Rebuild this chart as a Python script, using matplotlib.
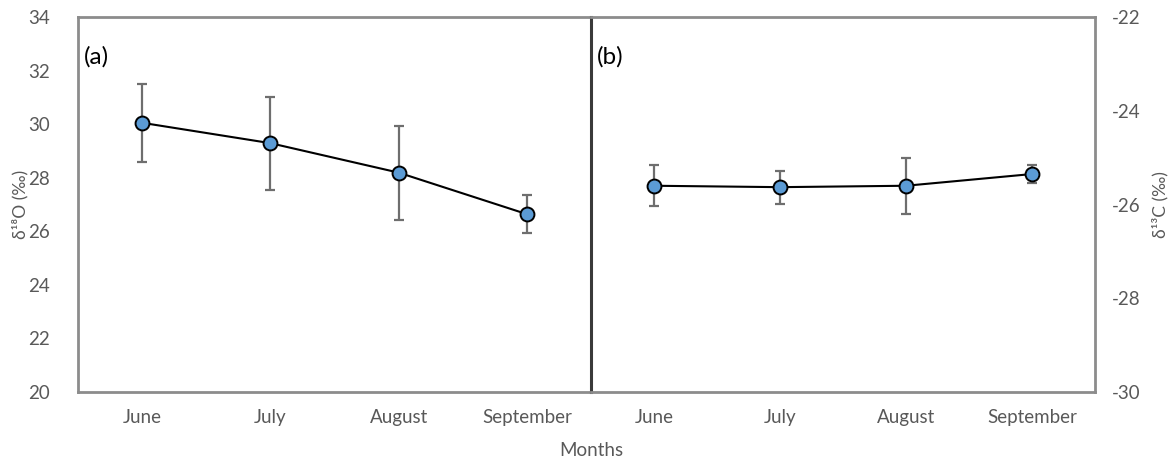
import matplotlib
matplotlib.use("Agg")
import matplotlib.pyplot as plt

plt.rcParams["font.family"] = ["Lato", "DejaVu Sans"]
plt.rcParams["axes.unicode_minus"] = False

months = ["June", "July", "August", "September"]

# (a) oxygen isotopes, left axis
d18o = [30.05, 29.29, 28.19, 26.64]
d18o_err = [1.45, 1.74, 1.75, 0.70]

# (b) carbon isotopes, right axis
d13c = [-25.60, -25.63, -25.60, -25.35]
d13c_err = [0.44, 0.35, 0.60, 0.20]

W, H = 1173, 462
fig = plt.figure(figsize=(W / 100, H / 100), dpi=100)

def px(x0, y0, x1, y1):
    return [x0 / W, 1 - y1 / H, (x1 - x0) / W, (y1 - y0) / H]

ax1 = fig.add_axes(px(78, 17, 591, 392))
ax2 = fig.add_axes(px(591, 17, 1095, 392))
ax2.patch.set_visible(False)

frame = "#8c8c8c"
tick_col = "#595959"
fill = "#5b9bd5"
err_col = "#6e6e6e"

for ax, vals, errs in ((ax1, d18o, d18o_err), (ax2, d13c, d13c_err)):
    x = range(len(months))
    ax.errorbar(x, vals, yerr=errs, fmt="none", ecolor=err_col,
                elinewidth=1.6, capsize=3.5, capthick=1.6, zorder=2)
    ax.plot(x, vals, color="black", lw=1.5, marker="o", ms=10,
            mfc=fill, mec="black", mew=1.4, zorder=3)
    ax.set_xlim(-0.5, 3.5)
    ax.set_xticks(list(x))
    ax.set_xticklabels(months)
    ax.tick_params(axis="x", length=0, pad=12, labelsize=13.5,
                   labelcolor=tick_col)
    for s in ax.spines.values():
        s.set_color(frame)
        s.set_linewidth(2)

ax1.set_ylim(20, 34)
ax1.set_yticks(range(20, 35, 2))
ax1.tick_params(axis="y", length=0, pad=20, labelsize=13.5,
                labelcolor=tick_col)
ax1.spines["right"].set_color("#3a3a3a")
ax1.spines["right"].set_linewidth(2.2)
ax1.spines["right"].set_zorder(5)
ax1.set_ylabel("δ¹⁸O (‰)", color=tick_col, fontsize=12.5,
               ha="center", va="center")
ax1.yaxis.set_label_coords(-0.113, 0.5)

ax2.set_ylim(-30, -22)
ax2.set_yticks(range(-30, -21, 2))
ax2.yaxis.tick_right()
ax2.yaxis.set_label_position("right")
ax2.tick_params(axis="y", length=0, pad=12, labelsize=13.5,
                labelcolor=tick_col)
ax2.spines["left"].set_visible(False)
ax2.set_ylabel("δ¹³C (‰)", color=tick_col, fontsize=12.5,
               rotation=90, ha="center", va="center")
ax2.yaxis.set_label_coords(1.129, 0.5)

ax1.text(0.012, 0.875, "(a)", transform=ax1.transAxes, fontsize=17.5,
         color="black")
ax2.text(0.012, 0.875, "(b)", transform=ax2.transAxes, fontsize=17.5,
         color="black")

fig.text(591 / W, 1 - 450 / H, "Months", ha="center", va="center",
         fontsize=13.5, color=tick_col)

fig.savefig("out.png", dpi=100, facecolor="white")
